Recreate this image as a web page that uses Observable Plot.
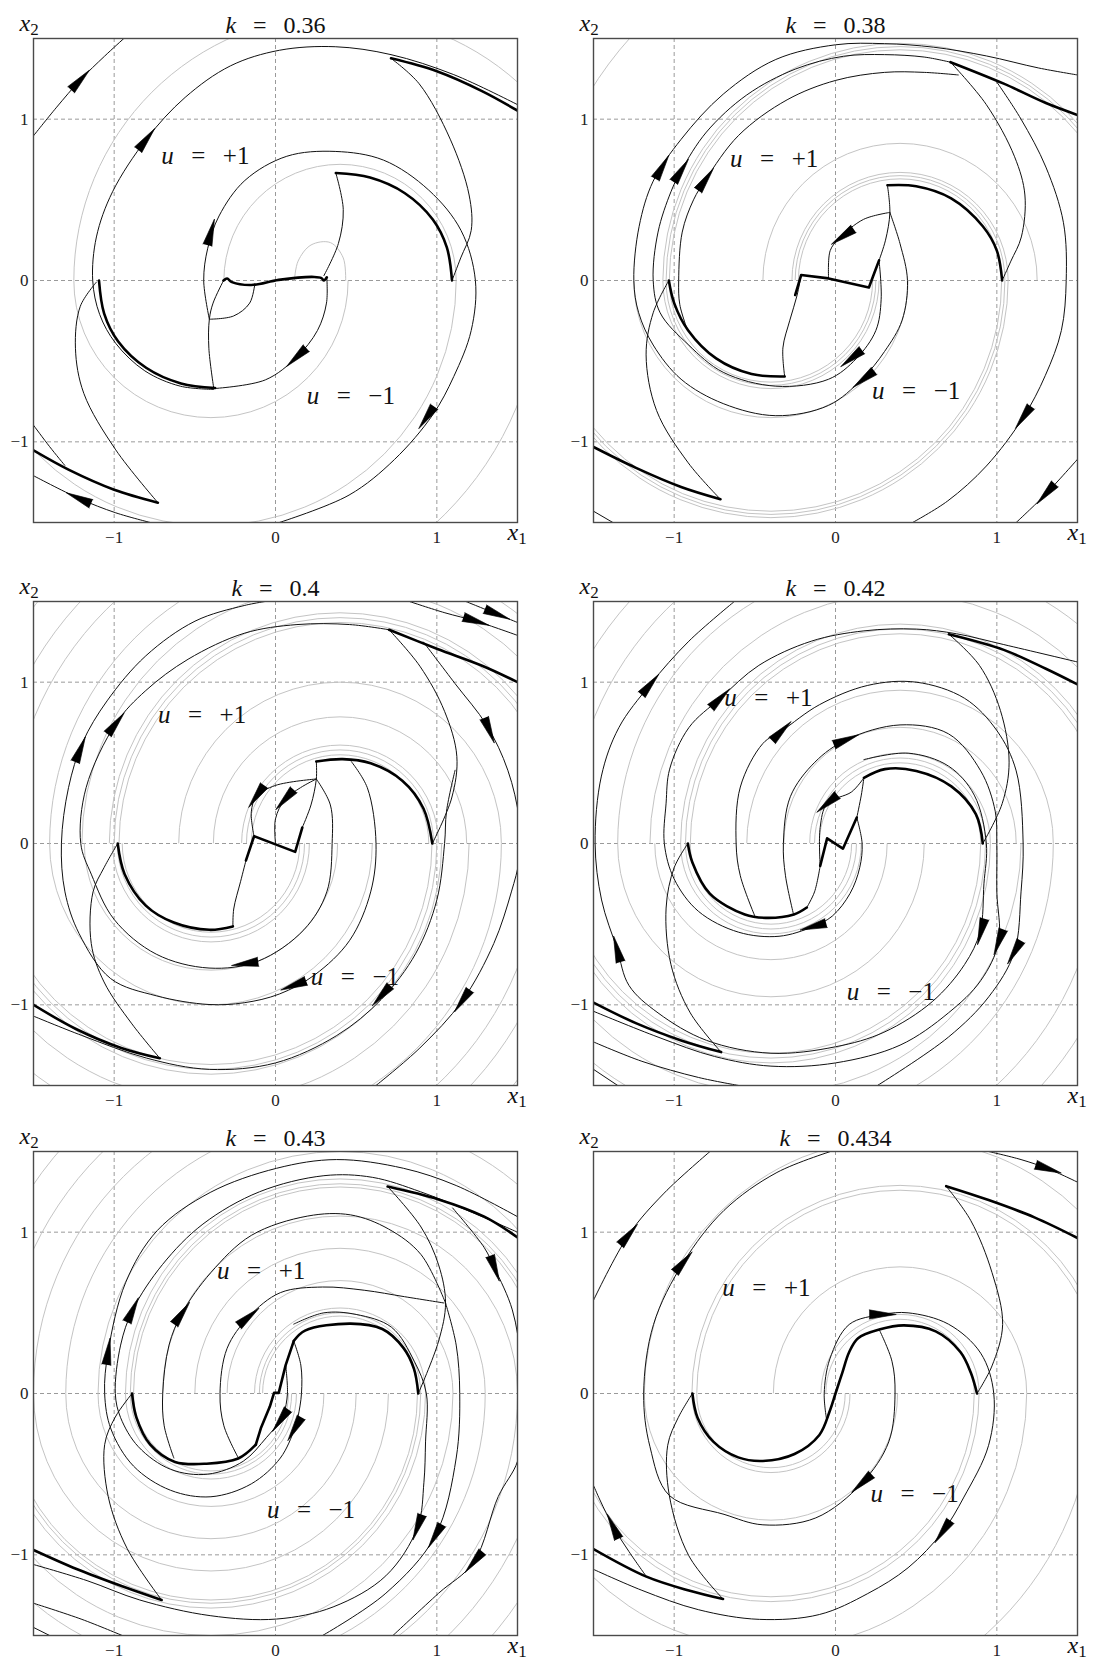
<!DOCTYPE html>
<html>
<head>
<meta charset="utf-8">
<script src="https://cdn.jsdelivr.net/npm/d3@7"></script>
<script src="https://cdn.jsdelivr.net/npm/@observablehq/plot@0.6"></script>
<style>
  body { margin: 0; background: #fff; }
  #page { position: relative; width: 1097px; height: 1659px; overflow: hidden; background: #fff; }
  #page svg { position: absolute; overflow: visible; }
</style>
</head>
<body>
<div id="page"></div>
<script>
// Phase portraits (x1, x2) of the switched system for six gains k.
// Thick: switching curve; thin: trajectories; grey: semicircular level arcs
// (upper half centred at (+c, 0), lower half centred at (-c, 0)).

const kLabels = ["0.36", "0.38", "0.4", "0.42", "0.43", "0.434"];
const gridTicks = [-1, 0, 1];
const greyCentre = 0.4;

// ---------- k = 0.36 ----------
const thick036 = [
  [[0.716,1.377],[1.0,1.297],[1.28,1.174],[1.5,1.053]],
  [[0.374,0.666],[0.586,0.638],[0.802,0.541],[0.975,0.378],[1.062,0.205],[1.094,0.0]],
  [[-0.322,0],[-0.30,0.012],[-0.27,-0.01],[-0.15,-0.028],[0.02,0.004],[0.24,0.022],[0.285,0.015],[0.30,0.0],[0.318,0.02]],
  [[-1.094,0],[-1.062,-0.205],[-0.975,-0.378],[-0.802,-0.541],[-0.586,-0.638],[-0.374,-0.666]],
  [[-1.5,-1.053],[-1.28,-1.174],[-1.0,-1.297],[-0.729,-1.377]]
];
const zig036 = [];
const thin036 = [
  [[-1.5,0.897],[-1.36,1.07],[-1.21,1.243],[-1.06,1.39],[-0.94,1.5]],
  [[-0.383,-0.675],[-0.59,-0.655],[-0.81,-0.56],[-0.99,-0.39],[-1.09,-0.21],[-1.133,0],[-1.11,0.27],[-1.01,0.55],[-0.80,0.876],[-0.56,1.135],[-0.28,1.33],[0.024,1.427],[0.37,1.449],[0.716,1.40],[1.105,1.276],[1.5,1.09]],
  [[-0.41,-0.24],[-0.445,0],[-0.42,0.2],[-0.35,0.4],[-0.19,0.62],[0.07,0.77],[0.37,0.80],[0.67,0.746],[0.95,0.56],[1.15,0.31],[1.239,0],[1.213,-0.31],[1.105,-0.595],[0.975,-0.832],[0.737,-1.11],[0.456,-1.33],[0.024,-1.5]],
  [[0.716,1.377],[0.89,1.22],[1.083,0.876],[1.2,0.53],[1.213,0.31],[1.148,0.14],[1.094,0.0]],
  [[0.318,0.02],[0.316,-0.14],[0.26,-0.31],[0.13,-0.476],[-0.063,-0.616],[-0.383,-0.67]],
  [[0.30,0.03],[0.39,0.23],[0.42,0.44],[0.374,0.666]],
  [[-0.322,0],[-0.387,-0.14],[-0.41,-0.24],[-0.413,-0.42],[-0.383,-0.666]],
  [[-0.41,-0.24],[-0.26,-0.22],[-0.16,-0.14],[-0.128,-0.02]],
  [[-1.5,-0.897],[-1.40,-1.03],[-1.306,-1.146]],
  [[-0.729,-1.377],[-0.99,-1.05],[-1.188,-0.70],[-1.24,-0.42],[-1.21,-0.16],[-1.11,-0.01]],
  [[-1.5,-1.21],[-1.22,-1.35],[-0.99,-1.44],[-0.776,-1.5]]
];
const greyUp036 = [0.72, 1.65];
const greyDown036 = [0.85, 1.52, 2.05];
const greyFree036 = [[[0.117,0],[0.14,0.12],[0.22,0.22],[0.34,0.235],[0.42,0.14],[0.435,0]]];
const arrows036 = [[-1.21,1.243,43],[-0.80,0.876,38],[-0.40,0.30,15],[0.13,-0.476,227],[0.936,-0.85,215],[-1.22,-1.35,294]];
const labels036 = [[-0.435,0.77],[0.467,-0.713]];

// ---------- k = 0.38 ----------
const thick038 = [
  [[0.713,1.353],[1.043,1.22],[1.304,1.10],[1.5,1.026]],
  [[0.322,0.59],[0.50,0.584],[0.717,0.509],[0.913,0.336],[1.0,0.185],[1.033,0]],
  [[-1.033,0],[-1.0,-0.14],[-0.913,-0.31],[-0.74,-0.483],[-0.52,-0.58],[-0.315,-0.595]],
  [[-1.5,-1.032],[-1.24,-1.16],[-0.957,-1.28],[-0.713,-1.356]]
];
const zig038 = [[[-0.25,-0.09],[-0.213,0.034],[-0.043,0.013],[0.207,-0.043],[0.24,0.045],[0.27,0.125]]];
const thin038 = [
  [[0.337,0.422],[0.40,0.228],[0.446,0],[0.413,-0.246],[0.304,-0.44],[0.163,-0.612],[-0.043,-0.774],[-0.37,-0.838],[-0.696,-0.763],[-0.957,-0.612],[-1.13,-0.40],[-1.22,-0.2],[-1.25,0],[-1.217,0.336],[-1.13,0.616],[-0.957,0.875],[-0.696,1.155],[-0.37,1.37],[0,1.461],[0.304,1.468],[0.609,1.446],[0.935,1.392],[1.26,1.317],[1.5,1.274]],
  [[0.27,0.125],[0.283,-0.116],[0.25,-0.31],[0.13,-0.483],[-0.043,-0.612],[-0.37,-0.655],[-0.696,-0.569],[-0.913,-0.397],[-1.087,-0.2],[-1.13,0],[-1.10,0.3],[-1.02,0.55],[-0.957,0.68],[-0.8,0.92],[-0.55,1.15],[-0.25,1.31],[0.05,1.39],[0.304,1.40],[0.55,1.385],[0.713,1.353]],
  [[-0.92,-0.3],[-0.965,-0.15],[-0.972,0],[-0.95,0.3],[-0.88,0.5],[-0.804,0.627],[-0.6,0.9],[-0.3,1.12],[0,1.24],[0.304,1.29],[0.55,1.29],[0.761,1.274]],
  [[0.713,1.353],[0.935,1.09],[1.11,0.767],[1.174,0.53],[1.152,0.27],[1.087,0.12],[1.033,0]],
  [[1.0,1.23],[1.15,1.0],[1.304,0.703],[1.413,0.358],[1.43,0],[1.40,-0.31],[1.30,-0.59],[1.163,-0.85],[0.935,-1.15],[0.696,-1.366],[0.478,-1.5]],
  [[1.12,-1.5],[1.304,-1.323],[1.5,-1.108]],
  [[-1.5,-1.43],[-1.38,-1.5]],
  [[0.322,0.59],[0.337,0.42],[0.31,0.25],[0.27,0.125]],
  [[-0.213,0.034],[-0.239,-0.095],[-0.283,-0.246],[-0.326,-0.418],[-0.315,-0.595]],
  [[-0.043,0.013],[-0.033,0.185],[0.022,0.26],[0.174,0.379],[0.337,0.422]],
  [[-0.713,-1.356],[-0.913,-1.13],[-1.109,-0.806],[-1.174,-0.461],[-1.13,-0.2],[-1.033,0]]
];
const greyUp038 = [0.63, 0.65, 0.67, 0.85, 1.43, 1.45, 1.47, 2.25];
const greyDown038 = [0.63, 0.65, 0.67, 0.85, 1.43, 1.45, 1.47];
const greyFree038 = [];
const arrows038 = [[-1.075,0.703,30],[-0.957,0.681,33],[-0.804,0.627,35],[0.043,0.272,235],[0.098,-0.483,232],[0.174,-0.612,232],[1.163,-0.849,215],[1.304,-1.323,222]];
const labels038 = [[-0.38,0.756],[0.5,-0.687]];

// ---------- k = 0.4 ----------
const thick040 = [
  [[0.704,1.325],[1.004,1.206],[1.288,1.099],[1.5,1.0]],
  [[0.253,0.508],[0.416,0.523],[0.59,0.497],[0.786,0.389],[0.917,0.217],[0.972,0]],
  [[-0.978,0],[-0.935,-0.19],[-0.804,-0.385],[-0.63,-0.49],[-0.41,-0.535],[-0.264,-0.514]],
  [[-1.5,-1.0],[-1.24,-1.148],[-0.956,-1.267],[-0.717,-1.331]]
];
const zig040 = [[[-0.183,-0.105],[-0.133,0.045],[0.122,-0.052],[0.166,0.099]]];
const thin040 = [
  [[0.47,0.508],[0.569,0.346],[0.623,0],[0.59,-0.30],[0.46,-0.60],[0.242,-0.815],[0.024,-0.933],[-0.194,-0.987],[-0.412,-0.998],[-0.739,-0.944],[-1.022,-0.837],[-1.218,-0.557],[-1.305,-0.3],[-1.327,0],[-1.283,0.346],[-1.196,0.626],[-1.044,0.884],[-0.804,1.163],[-0.499,1.378],[-0.194,1.475],[0,1.51]],
  [[0.253,0.40],[0.34,0.239],[0.351,0],[0.318,-0.30],[0.176,-0.535],[-0.107,-0.729],[-0.412,-0.772],[-0.739,-0.686],[-1.0,-0.471],[-1.142,-0.19],[-1.207,0],[-1.174,0.346],[-0.989,0.744],[-0.804,0.948],[-0.542,1.142],[-0.194,1.303],[0.133,1.357],[0.46,1.357],[0.704,1.325]],
  [[0.704,1.325],[0.895,1.099],[1.048,0.819],[1.124,0.54],[1.092,0.282],[0.972,0]],
  [[0.917,1.249],[1.113,0.991],[1.309,0.733],[1.44,0.454],[1.51,0.15],[1.51,-0.1],[1.462,-0.30],[1.353,-0.62],[1.157,-0.976],[0.895,-1.267],[0.623,-1.5]],
  [[1.113,0.454],[1.06,0.2],[1.048,0],[1.0,-0.35],[0.87,-0.68],[0.656,-0.966],[0.38,-1.19],[0.0,-1.36],[-0.41,-1.40],[-0.8,-1.33],[-1.2,-1.19],[-1.5,-1.07]],
  [[0.83,1.5],[1.05,1.43],[1.244,1.378],[1.5,1.29]],
  [[1.18,1.5],[1.375,1.421],[1.5,1.37]],
  [[-0.717,-1.331],[-0.89,-1.118],[-1.063,-0.858],[-1.142,-0.62],[-1.131,-0.30],[-1.063,-0.15],[-0.978,0]],
  [[0.253,0.508],[0.253,0.40],[0.22,0.239],[0.166,0.099]],
  [[-0.183,-0.105],[-0.216,-0.234],[-0.259,-0.406],[-0.264,-0.514]],
  [[-0.133,0.045],[-0.15,0.196],[-0.118,0.292],[0,0.36],[0.253,0.40]],
  [[0.0,0.0],[0.0,0.153],[0.057,0.271],[0.155,0.346],[0.253,0.40]]
];
const greyUp040 = [0.55, 0.58, 0.61, 0.785, 1.0, 1.37, 1.4, 1.43, 1.6, 1.8, 2.05, 2.2, 2.4];
const greyDown040 = [0.55, 0.58, 0.61, 0.785, 1.0, 1.37, 1.4, 1.43, 1.6, 1.8, 2.05, 2.2, 2.4];
const greyFree040 = [];
const arrows040 = [[-1.21,0.583,22],[-0.989,0.744,38],[1.244,1.378,108],[1.375,1.421,112],[1.325,0.70,158],[1.157,-0.976,215],[0.656,-0.944,222],[0.111,-0.88,250],[-0.19,-0.745,262],[-0.118,0.292,215],[0.057,0.271,222]];
const labels040 = [[-0.455,0.798],[0.492,-0.826]];

// ---------- k = 0.42 ----------
const thick042 = [
  [[0.703,1.297],[1.043,1.20],[1.304,1.083],[1.5,0.986]],
  [[0.176,0.407],[0.306,0.461],[0.501,0.45],[0.718,0.354],[0.87,0.182],[0.913,0]],
  [[-0.915,0],[-0.887,-0.118],[-0.779,-0.311],[-0.562,-0.44],[-0.432,-0.461],[-0.258,-0.44],[-0.178,-0.397]],
  [[-1.5,-0.986],[-1.234,-1.115],[-0.952,-1.222],[-0.709,-1.293]]
];
const zig042 = [[[-0.095,-0.139],[-0.052,0.032],[0.046,-0.032],[0.132,0.161]]];
const thin042 = [
  [[0.176,0.52],[0.45,0.56],[0.7,0.48],[0.86,0.3],[0.935,0],[0.92,-0.25],[0.896,-0.547],[0.8,-0.75],[0.6,-0.98],[0.3,-1.17],[0,-1.26],[-0.4,-1.3],[-0.8,-1.22],[-1.1,-1.05],[-1.28,-0.88],[-1.354,-0.654],[-1.45,-0.35],[-1.49,0],[-1.451,0.418],[-1.343,0.718],[-1.148,0.986],[-0.909,1.254],[-0.627,1.5]],
  [[0.132,0.161],[0.165,0],[0.15,-0.15],[0.09,-0.31],[-0.02,-0.45],[-0.139,-0.515],[-0.35,-0.575],[-0.6,-0.55],[-0.85,-0.42],[-1.0,-0.22],[-1.061,0],[-1.05,0.25],[-1.028,0.461],[-0.909,0.718],[-0.714,0.9],[-0.475,1.104],[-0.15,1.254],[0.176,1.318],[0.501,1.329],[0.75,1.3],[1.043,1.233],[1.5,1.125]],
  [[-0.5,-0.45],[-0.59,-0.2],[-0.616,0],[-0.59,0.35],[-0.45,0.62],[-0.334,0.697],[-0.1,0.86],[0.2,0.98],[0.5,1.0],[0.8,0.9],[1.0,0.7],[1.12,0.45],[1.163,0],[1.15,-0.3],[1.108,-0.675],[0.95,-0.95],[0.7,-1.2],[0.26,-1.5]],
  [[-0.26,-0.44],[-0.31,-0.2],[-0.323,0],[-0.28,0.29],[-0.128,0.504],[0.067,0.643],[0.4,0.735],[0.7,0.68],[0.9,0.45],[0.99,0.2],[1.0,0],[1.0,-0.3],[1.011,-0.611],[0.9,-0.85],[0.7,-1.05],[0.4,-1.25],[0,-1.36],[-0.4,-1.38],[-0.75,-1.32],[-1.1,-1.2],[-1.5,-1.04]],
  [[0.703,1.297],[0.892,1.104],[1.022,0.825],[1.076,0.504],[1.033,0.247],[0.913,0]],
  [[0.176,0.407],[0.1,0.32],[-0.052,0.247],[-0.095,0.1],[-0.095,-0.139]],
  [[-0.095,-0.139],[-0.13,-0.3],[-0.178,-0.397]],
  [[0.132,0.161],[0.16,0.3],[0.176,0.407]],
  [[-0.709,-1.293],[-0.9,-1.05],[-1.02,-0.75],[-1.05,-0.4],[-1.0,-0.15],[-0.915,0]],
  [[-0.6,-1.5],[-0.85,-1.45],[-1.2,-1.35],[-1.5,-1.23]],
  [[-1.5,-1.4],[-1.35,-1.5]]
];
const greyUp042 = [0.5, 0.53, 0.56, 0.72, 0.95, 1.3, 1.33, 1.36, 1.55, 1.75, 2.05, 2.25, 2.45];
const greyDown042 = [0.5, 0.53, 0.56, 0.72, 0.95, 1.3, 1.33, 1.36, 1.55, 1.75, 2.05, 2.25, 2.45];
const greyFree042 = [];
const arrows042 = [[-1.148,0.986,40],[-1.354,-0.654,345],[-0.714,0.9,45],[-0.334,0.697,45],[0.067,0.643,68],[-0.052,0.247,230],[-0.139,-0.515,255],[0.902,-0.547,195],[1.011,-0.611,200],[1.108,-0.675,210]];
const labels042 = [[-0.416,0.90],[0.343,-0.922]];

// ---------- k = 0.43 ----------
const thick043 = [
  [[0.695,1.283],[1.011,1.203],[1.294,1.096],[1.5,0.968]],
  [[0.113,0.325],[0.183,0.39],[0.466,0.433],[0.662,0.40],[0.793,0.283],[0.858,0.154],[0.885,0]],
  [[-0.889,0],[-0.863,-0.146],[-0.776,-0.317],[-0.623,-0.424],[-0.427,-0.435],[-0.231,-0.403],[-0.122,-0.317]],
  [[-1.5,-0.97],[-1.233,-1.088],[-0.95,-1.195],[-0.706,-1.28]]
];
const zig043 = [[[-0.122,-0.317],[-0.089,-0.21],[-0.035,-0.081],[-0.009,0.004],[0.02,0.004],[0.063,0.176],[0.113,0.325]]];
const thin043 = [
  [[0.113,0.325],[0.157,0.176],[0.161,0],[0.139,-0.146],[0.118,-0.22],[0.03,-0.4],[-0.15,-0.56],[-0.4,-0.64],[-0.65,-0.6],[-0.88,-0.45],[-1.02,-0.22],[-1.059,0],[-1.037,0.261],[-0.928,0.69],[-0.732,1.011],[-0.405,1.246],[0.007,1.396],[0.379,1.45],[0.793,1.396],[1.12,1.289],[1.5,1.096]],
  [[0.063,0.176],[0.074,0],[0.052,-0.124],[0.03,-0.167],[-0.057,-0.274],[-0.2,-0.42],[-0.42,-0.5],[-0.65,-0.47],[-0.85,-0.33],[-0.96,-0.15],[-0.993,0],[-0.96,0.3],[-0.885,0.518],[-0.7,0.8],[-0.45,1.05],[-0.1,1.25],[0.3,1.35],[0.6,1.34],[0.9,1.25],[1.2,1.13],[1.5,1.0]],
  [[-0.63,-0.40],[-0.69,-0.2],[-0.699,0],[-0.66,0.3],[-0.58,0.497],[-0.4,0.75],[-0.15,0.98],[0.2,1.1],[0.466,1.107],[0.7,1.02],[0.902,0.861],[1.054,0.561]],
  [[-0.23,-0.40],[-0.32,-0.2],[-0.344,0],[-0.3,0.28],[-0.166,0.475],[0.03,0.625],[0.292,0.66],[0.55,0.64],[0.8,0.6],[1.044,0.561]],
  [[0.695,1.283],[0.902,1.032],[1.011,0.797],[1.054,0.561],[1.011,0.325],[0.885,0]],
  [[1.098,1.15],[1.294,0.904],[1.359,0.775],[1.468,0.518],[1.52,0.2],[1.52,-0.2],[1.5,-0.42],[1.381,-0.638],[1.229,-1.045],[1.011,-1.238],[0.728,-1.5]],
  [[1.054,0.561],[1.12,0.3],[1.142,0],[1.12,-0.4],[0.989,-0.884],[0.684,-1.238],[0.292,-1.5]],
  [[0.113,0.43],[0.3,0.5],[0.5,0.49],[0.72,0.41],[0.86,0.2],[0.935,0],[0.93,-0.3],[0.92,-0.55],[0.88,-0.83],[0.684,-1.13],[0.357,-1.323],[0.007,-1.398],[-0.405,-1.377],[-0.841,-1.28],[-1.168,-1.16],[-1.5,-1.06]],
  [[-0.706,-1.28],[-0.92,-0.96],[-1.037,-0.638],[-1.059,-0.317],[-0.993,-0.146],[-0.889,0]],
  [[-1.5,-1.3],[-1.2,-1.4],[-0.95,-1.5]],
  [[-1.5,-1.45],[-1.4,-1.5]]
];
const greyUp043 = [0.48, 0.5, 0.53, 0.7, 0.9, 1.1, 1.28, 1.3, 1.33, 1.5, 1.7, 1.9, 2.1, 2.3, 2.5];
const greyDown043 = [0.48, 0.5, 0.53, 0.7, 0.9, 1.1, 1.28, 1.3, 1.33, 1.5, 1.7, 1.9, 2.1, 2.3, 2.5];
const greyFree043 = [];
const arrows043 = [[-1.037,0.261,8],[-0.885,0.518,25],[-0.58,0.497,35],[-0.166,0.475,50],[1.359,0.775,160],[0.88,-0.83,200],[0.989,-0.884,210],[1.229,-1.045,220],[0.03,-0.167,215],[0.118,-0.22,210]];
const labels043 = [[-0.089,0.758],[0.22,-0.72]];

// ---------- k = 0.434 ----------
const thick0434 = [
  [[0.686,1.285],[0.949,1.199],[1.233,1.092],[1.5,0.964]],
  [[-0.887,0],[-0.855,-0.15],[-0.756,-0.30],[-0.603,-0.396],[-0.45,-0.418],[-0.254,-0.375],[-0.10,-0.257],[-0.035,-0.107],[0,0],[0.042,0.128],[0.085,0.257],[0.14,0.343],[0.271,0.396],[0.424,0.422],[0.621,0.385],[0.774,0.257],[0.839,0.128],[0.877,0]],
  [[-1.5,-0.964],[-1.172,-1.135],[-0.909,-1.221],[-0.697,-1.274]]
];
const zig0434 = [];
const thin0434 = [
  [[-1.5,0.578],[-1.281,0.985],[-1.062,1.242],[-0.778,1.5]],
  [[0.271,0.396],[0.35,0.2],[0.369,0],[0.33,-0.3],[0.162,-0.557],[-0.122,-0.771],[-0.45,-0.814],[-0.691,-0.749],[-1.03,-0.632],[-1.15,-0.33],[-1.189,0],[-1.128,0.428],[-0.942,0.814],[-0.691,1.135],[-0.363,1.37],[0,1.51]],
  [[0.949,1.5],[1.15,1.45],[1.32,1.392],[1.5,1.31]],
  [[0.686,1.285],[0.839,1.071],[0.97,0.75],[1.036,0.428],[0.97,0.171],[0.877,0]],
  [[-0.057,-0.15],[-0.07,0.0],[-0.035,0.214],[0.085,0.428],[0.293,0.49],[0.45,0.5],[0.7,0.43],[0.9,0.25],[0.981,0],[0.949,-0.321],[0.796,-0.642],[0.664,-0.857],[0.45,-1.08],[0.2,-1.24],[-0.1,-1.37],[-0.472,-1.40],[-0.85,-1.34],[-1.2,-1.22],[-1.5,-1.09]],
  [[-1.172,-1.135],[-1.28,-0.98],[-1.379,-0.824],[-1.46,-0.66],[-1.5,-0.57]],
  [[-0.697,-1.274],[-0.909,-1.006],[-1.03,-0.632],[-1.04,-0.321],[-0.975,-0.15],[-0.887,0]]
];
const greyUp0434 = [0.46, 0.49, 0.785, 1.26, 1.29, 1.585];
const greyDown0434 = [0.46, 0.49, 0.785, 1.26, 1.29, 1.585, 2.0];
const greyFree0434 = [];
const arrows0434 = [[-1.281,0.985,40],[-0.942,0.814,40],[1.32,1.392,108],[0.293,0.49,90],[0.162,-0.557,228],[0.664,-0.857,215],[-1.379,-0.824,335]];
const labels0434 = [[-0.428,0.653],[0.49,-0.621]];

// ---------- layout ----------
const FRAME = 484;
const M = {left: 33, right: 28, top: 38, bottom: 24};
const slots = [[0, 0], [560, 0], [0, 563], [560, 563], [0, 1113], [560, 1113]];
const GREY = "#c4c4c4";
const FONT = "Liberation Serif, DejaVu Serif, serif";
const SP = "\u2002\u2009";

const panels = [
  {thick: thick036, zig: zig036, thin: thin036, up: greyUp036, down: greyDown036, free: greyFree036, arrows: arrows036, labels: labels036},
  {thick: thick038, zig: zig038, thin: thin038, up: greyUp038, down: greyDown038, free: greyFree038, arrows: arrows038, labels: labels038},
  {thick: thick040, zig: zig040, thin: thin040, up: greyUp040, down: greyDown040, free: greyFree040, arrows: arrows040, labels: labels040},
  {thick: thick042, zig: zig042, thin: thin042, up: greyUp042, down: greyDown042, free: greyFree042, arrows: arrows042, labels: labels042},
  {thick: thick043, zig: zig043, thin: thin043, up: greyUp043, down: greyDown043, free: greyFree043, arrows: arrows043, labels: labels043},
  {thick: thick0434, zig: zig0434, thin: thin0434, up: greyUp0434, down: greyDown0434, free: greyFree0434, arrows: arrows0434, labels: labels0434}
];

const rows = (curves) => curves.flatMap((pts, id) => pts.map(([x, y]) => ({x, y, id})));
const NS = "http://www.w3.org/2000/svg";
const tickText = d => d === 0 ? "0" : (d < 0 ? "\u2212" : "") + Math.abs(d);

function italicHead(t) {
  const s = t.textContent;
  t.textContent = "";
  const it = document.createElementNS(NS, "tspan");
  it.setAttribute("font-style", "italic");
  it.textContent = s[0];
  t.append(it, s.slice(1));
}

function subscripted(t) {
  const s = t.textContent; // "x1" or "x2"
  t.textContent = "";
  const it = document.createElementNS(NS, "tspan");
  it.setAttribute("font-style", "italic");
  it.textContent = s[0];
  const sub = document.createElementNS(NS, "tspan");
  sub.setAttribute("font-size", "17");
  sub.setAttribute("dy", "4");
  sub.textContent = s.slice(1);
  t.append(it, sub);
}

// keep only one half of each grey circle (stroke starts at 3 o'clock, runs through the bottom first)
function halve(svg, tag, lower) {
  svg.querySelectorAll(`g[aria-description="${tag}"] circle`).forEach(c => {
    const h = Math.PI * +c.getAttribute("r");
    c.setAttribute("stroke-dasharray", lower ? `${h} ${h}` : `0 ${h} ${h}`);
  });
}

function drawPanel(p, i) {
  const line = (curves, opts) => Plot.line(rows(curves), {x: "x", y: "y", z: "id", curve: "catmull-rom", clip: true, ...opts});
  const textOpts = {fontFamily: FONT, fill: "#111"};
  const svg = Plot.plot({
    width: M.left + FRAME + M.right,
    height: M.top + FRAME + M.bottom,
    marginLeft: M.left, marginRight: M.right, marginTop: M.top, marginBottom: M.bottom,
    style: {fontFamily: FONT, fontSize: "17px", background: "white", color: "#222"},
    x: {domain: [-1.5, 1.5], ticks: gridTicks, tickSize: 0, tickPadding: 8, label: null, tickFormat: tickText},
    y: {domain: [-1.5, 1.5], ticks: gridTicks, tickSize: 0, tickPadding: 5, label: null, tickFormat: tickText},
    r: {type: "linear", domain: [0, 3], range: [0, FRAME]},
    marks: [
      Plot.ruleX(gridTicks, {stroke: "#8f8f8f", strokeWidth: 0.9, strokeDasharray: "4,3"}),
      Plot.ruleY(gridTicks, {stroke: "#8f8f8f", strokeWidth: 0.9, strokeDasharray: "4,3"}),
      Plot.dot(p.up.map(r => ({cx: greyCentre, cy: 0, r})), {x: "cx", y: "cy", r: "r", fill: "none", stroke: GREY, strokeWidth: 1, clip: true, ariaDescription: "grey-upper"}),
      Plot.dot(p.down.map(r => ({cx: -greyCentre, cy: 0, r})), {x: "cx", y: "cy", r: "r", fill: "none", stroke: GREY, strokeWidth: 1, clip: true, ariaDescription: "grey-lower"}),
      line(p.free, {stroke: GREY, strokeWidth: 1}),
      line(p.thin, {stroke: "#111", strokeWidth: 1}),
      line(p.thick, {stroke: "#000", strokeWidth: 2.6}),
      line(p.zig, {stroke: "#000", strokeWidth: 2.6, curve: "linear"}),
      Plot.vector(p.arrows, {x: d => d[0], y: d => d[1], rotate: d => d[2], length: 27, r: 4.6, shape: "spike", anchor: "middle", fill: "#000", stroke: "#000", strokeWidth: 0.6}),
      Plot.frame({stroke: "#4a4a4a", strokeWidth: 1.4}),
      Plot.text(p.labels.map((d, j) => ({x: d[0], y: d[1], t: j === 0 ? `u${SP}=${SP}+1` : `u${SP}=${SP}\u22121`})), {x: "x", y: "y", text: "t", fontSize: 25, ...textOpts, ariaDescription: "ulabel"}),
      Plot.text([`k${SP}=${SP}${kLabels[i]}`], {text: d => d, frameAnchor: "top", dy: -6, lineAnchor: "bottom", fontSize: 24, ...textOpts, ariaDescription: "title"}),
      Plot.text(["x2"], {text: d => d, frameAnchor: "top-left", dx: -14, dy: -8, textAnchor: "start", lineAnchor: "bottom", fontSize: 24, ...textOpts, ariaDescription: "axis-name"}),
      Plot.text(["x1"], {text: d => d, frameAnchor: "bottom-right", dx: -10, dy: 17, textAnchor: "start", lineAnchor: "bottom", fontSize: 24, ...textOpts, ariaDescription: "axis-name"})
    ]
  });

  svg.style.left = slots[i][0] + "px";
  svg.style.top = slots[i][1] + "px";
  document.getElementById("page").append(svg);

  halve(svg, "grey-upper", false);
  halve(svg, "grey-lower", true);
  svg.querySelectorAll('g[aria-description="ulabel"] text, g[aria-description="title"] text').forEach(italicHead);
  svg.querySelectorAll('g[aria-description="axis-name"] text').forEach(subscripted);
}

panels.forEach(drawPanel);
</script>
</body>
</html>
